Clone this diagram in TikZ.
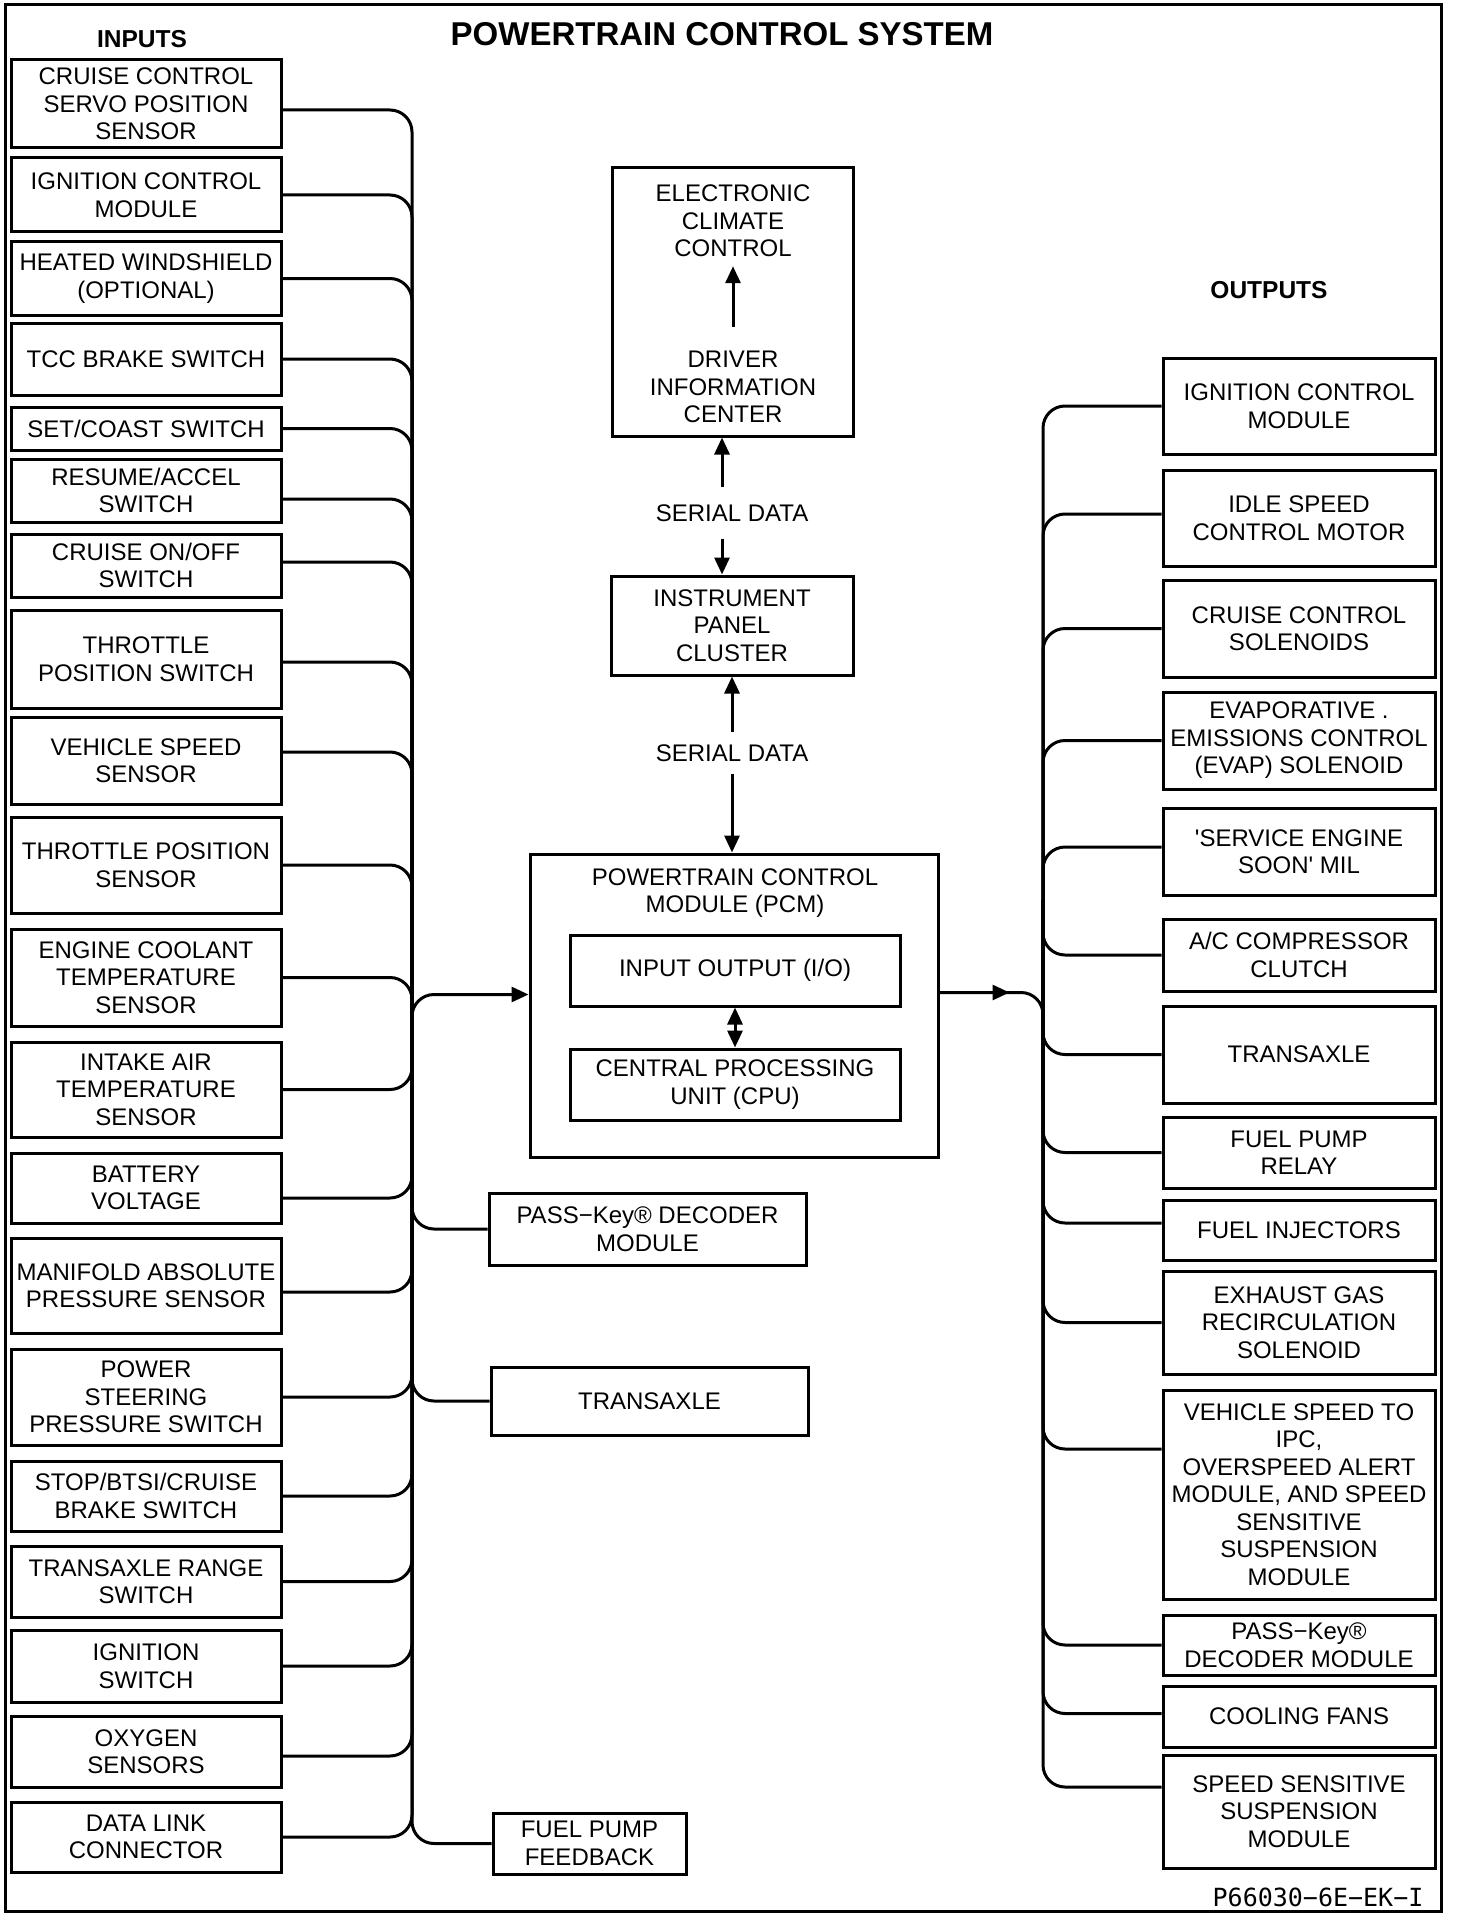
\documentclass[tikz,border=0pt]{standalone}
\usepackage{fontspec}
\setmainfont{Liberation Sans}
\newfontfamily\monof{DejaVu Sans Mono}
\usetikzlibrary{arrows.meta}
\newcommand\bodyf{\fontsize{24}{27.5}\selectfont}
\newcommand\mybox[6]{\node[box, minimum width={(#4-#2)*1pt}, minimum height={(#5-#3)*1pt}] (#1) at ({(#2+#4)/2},{(#3+#5)/2}) {#6};}
\tikzset{
  box/.style={draw, line width=3pt, inner sep=0pt, align=center, font=\bodyf},
  txt/.style={inner sep=0pt, align=center, font=\bodyf},
  conn/.style={line width=3pt, rounded corners=22pt},
  arr/.style={line width=3pt, -{Triangle[length=17pt,width=15pt]}},
  arrtwo/.style={line width=3pt, {Triangle[length=17pt,width=15pt]}-{Triangle[length=17pt,width=15pt]}},
}
\begin{document}
\begin{tikzpicture}[x=1pt,y=-1pt]
\useasboundingbox (0,0) rectangle (1456,1918);
\draw[line width=3pt] (5,5) rectangle (1441,1911);

% titles
\node[inner sep=0pt, font=\fontsize{33}{36}\selectfont\bfseries] (title) at (722,34) {POWERTRAIN CONTROL SYSTEM};
\node[inner sep=0pt, font=\fontsize{24.5}{27}\selectfont\bfseries] (inputs) at (142,39) {INPUTS};
\node[inner sep=0pt, font=\fontsize{24.5}{27}\selectfont\bfseries] (outputs) at (1269,290) {OUTPUTS};
\node[inner sep=0pt, font=\fontsize{25}{27}\selectfont\monof] (code) at (1318,1897) {P66030−6E−EK−I};

% inputs
\mybox{in1}{11}{60}{281}{148}{CRUISE CONTROL\\SERVO POSITION\\SENSOR}
\mybox{in2}{11}{158}{281}{232}{IGNITION CONTROL\\MODULE}
\mybox{in3}{11}{242}{281}{315}{HEATED WINDSHIELD\\(OPTIONAL)}
\mybox{in4}{11}{323}{281}{395}{TCC BRAKE SWITCH}
\mybox{in5}{11}{407}{281}{450}{SET/COAST SWITCH}
\mybox{in6}{11}{459}{281}{522}{RESUME/ACCEL\\SWITCH}
\mybox{in7}{11}{534}{281}{597}{CRUISE ON/OFF\\SWITCH}
\mybox{in8}{11}{610}{281}{708}{THROTTLE\\POSITION SWITCH}
\mybox{in9}{11}{717}{281}{804}{VEHICLE SPEED\\SENSOR}
\mybox{in10}{11}{817}{281}{913}{THROTTLE POSITION\\SENSOR}
\mybox{in11}{11}{929}{281}{1026}{ENGINE COOLANT\\TEMPERATURE\\SENSOR}
\mybox{in12}{11}{1042}{281}{1137}{INTAKE AIR\\TEMPERATURE\\SENSOR}
\mybox{in13}{11}{1153}{281}{1223}{BATTERY\\VOLTAGE}
\mybox{in14}{11}{1238}{281}{1333}{MANIFOLD ABSOLUTE\\PRESSURE SENSOR}
\mybox{in15}{11}{1349}{281}{1445}{POWER\\STEERING\\PRESSURE SWITCH}
\mybox{in16}{11}{1461}{281}{1531}{STOP/BTSI/CRUISE\\BRAKE SWITCH}
\mybox{in17}{11}{1546}{281}{1617}{TRANSAXLE RANGE\\SWITCH}
\mybox{in18}{11}{1630}{281}{1702}{IGNITION\\SWITCH}
\mybox{in19}{11}{1716}{281}{1787}{OXYGEN\\SENSORS}
\mybox{in20}{11}{1802}{281}{1872}{DATA LINK\\CONNECTOR}

% outputs
\mybox{out1}{1163}{358}{1435}{454}{IGNITION CONTROL\\MODULE}
\mybox{out2}{1163}{470}{1435}{566}{IDLE SPEED\\CONTROL MOTOR}
\mybox{out3}{1163}{580}{1435}{677}{CRUISE CONTROL\\SOLENOIDS}
\mybox{out4}{1163}{692}{1435}{789}{EVAPORATIVE .\\EMISSIONS CONTROL\\(EVAP) SOLENOID}
\mybox{out5}{1163}{808}{1435}{895}{\textquotesingle SERVICE ENGINE\\SOON\textquotesingle\ MIL}
\mybox{out6}{1163}{919}{1435}{991}{A/C COMPRESSOR\\CLUTCH}
\mybox{out7}{1163}{1006}{1435}{1103}{TRANSAXLE}
\mybox{out8}{1163}{1117}{1435}{1188}{FUEL PUMP\\RELAY}
\mybox{out9}{1163}{1200}{1435}{1260}{FUEL INJECTORS}
\mybox{out10}{1163}{1271}{1435}{1374}{EXHAUST GAS\\RECIRCULATION\\SOLENOID}
\mybox{out11}{1163}{1390}{1435}{1599}{VEHICLE SPEED TO\\IPC,\\OVERSPEED ALERT\\MODULE, AND SPEED\\SENSITIVE\\SUSPENSION\\MODULE}
\mybox{out12}{1163}{1615}{1435}{1675}{PASS−Key®\\DECODER MODULE}
\mybox{out13}{1163}{1686}{1435}{1747}{COOLING FANS}
\mybox{out14}{1163}{1755}{1435}{1868}{SPEED SENSITIVE\\SUSPENSION\\MODULE}

% middle left boxes
\mybox{pk}{489}{1193}{806}{1265}{PASS−Key® DECODER\\MODULE}
\mybox{tx}{491}{1367}{808}{1435}{TRANSAXLE}
\mybox{fpf}{493}{1813}{686}{1874}{FUEL PUMP\\FEEDBACK}

% centre column
\mybox{eccbox}{612}{168}{853}{436}{}
\node[txt, minimum height=90pt] (ecc) at (733,221) {ELECTRONIC\\CLIMATE\\CONTROL};
\node[txt, minimum height=120pt] (dic) at (733,387) {DRIVER\\INFORMATION\\CENTER};
\draw[arr] (dic.north) -- (ecc.south);

\mybox{ipc}{611}{576}{853}{675}{INSTRUMENT\\PANEL\\CLUSTER}
\node[txt, minimum height=51pt] (sd1) at (732,513) {SERIAL DATA};
\node[txt, minimum height=42pt] (sd2) at (732,753) {SERIAL DATA};

\mybox{pcm}{530}{854}{938}{1157}{}
\node[txt] (pcmt) at (735,893) {POWERTRAIN CONTROL\\MODULE (PCM)};
\mybox{io}{570}{935}{900}{1006}{INPUT OUTPUT (I/O)}
\mybox{cpu}{570}{1049}{900}{1120}{CENTRAL PROCESSING\\UNIT (CPU)}
\draw[arrtwo] (io.south) -- (cpu.north);

\coordinate (s1a) at ([xshift=-10pt]sd1.north);
\coordinate (s1b) at ([xshift=-10pt]sd1.south);
\draw[arr] (s1a) -- (s1a |- eccbox.south);
\draw[arr] (s1b) -- (s1b |- ipc.north);
\draw[arr] (sd2.north) -- (sd2.north |- ipc.south);
\draw[arr] (sd2.south) -- (sd2.south |- pcm.north);

% bus coordinates
\coordinate (lbusT) at (412,900);
\coordinate (lbusB) at (412,1100);
\coordinate (rbusT) at (1043,900);
\coordinate (rbusB) at (1043,1100);

% input connectors
\draw[conn] ([yshift=-6pt]in1.east) -| (lbusB);
\draw[conn] (in2.east) -| (lbusB);
\draw[conn] (in3.east) -| (lbusB);
\draw[conn] (in4.east) -| (lbusB);
\draw[conn] (in5.east) -| (lbusB);
\draw[conn] ([yshift=-8.5pt]in6.east) -| (lbusB);
\draw[conn] ([yshift=3.5pt]in7.east) -| (lbusB);
\draw[conn] ([yshift=-3pt]in8.east) -| (lbusB);
\draw[conn] ([yshift=8.5pt]in9.east) -| (lbusB);
\draw[conn] (in10.east) -| (lbusB);
\draw[conn] (in11.east) -| (lbusB);
\draw[conn] (in12.east) -| (lbusT);
\draw[conn] ([yshift=-10pt]in13.east) -| (lbusT);
\draw[conn] ([yshift=-6.5pt]in14.east) -| (lbusT);
\draw[conn] (in15.east) -| (lbusT);
\draw[conn] (in16.east) -| (lbusT);
\draw[conn] (in17.east) -| (lbusT);
\draw[conn] (in18.east) -| (lbusT);
\draw[conn] ([yshift=-4.5pt]in19.east) -| (lbusT);
\draw[conn] (in20.east) -| (lbusT);

% left bus to PCM and side modules
\draw[conn, -{Triangle[length=17pt,width=15pt]}] (lbusB) |- ([yshift=11pt]pcm.west);
\draw[conn] (lbusB) |- (pk.west);
\draw[conn] (lbusB) |- (tx.west);
\draw[conn] (lbusB) |- (fpf.west);

% PCM to right bus
\coordinate (rarr) at ([xshift=70pt,yshift=13pt]pcm.east);
\draw[conn] ([yshift=13pt]pcm.east) -| (rbusB);
\draw[arr] ([yshift=13pt]pcm.east) -- (rarr);

% output connectors
\draw[conn] (out1.west) -| (rbusB);
\draw[conn] ([yshift=4pt]out2.west) -| (rbusB);
\draw[conn] (out3.west) -| (rbusB);
\draw[conn] (out4.west) -| (rbusB);
\draw[conn] ([yshift=4.5pt]out5.west) -| (rbusB);
\draw[conn] (rbusT) |- (out6.west);
\draw[conn] (rbusT) |- (out7.west);
\draw[conn] (rbusT) |- (out8.west);
\draw[conn] (rbusT) |- ([yshift=7pt]out9.west);
\draw[conn] (rbusT) |- (out10.west);
\draw[conn] (rbusT) |- ([yshift=45.5pt]out11.west);
\draw[conn] (rbusT) |- (out12.west);
\draw[conn] (rbusT) |- ([yshift=3pt]out13.west);
\draw[conn] (rbusT) |- ([yshift=24.5pt]out14.west);
\end{tikzpicture}
\end{document}
